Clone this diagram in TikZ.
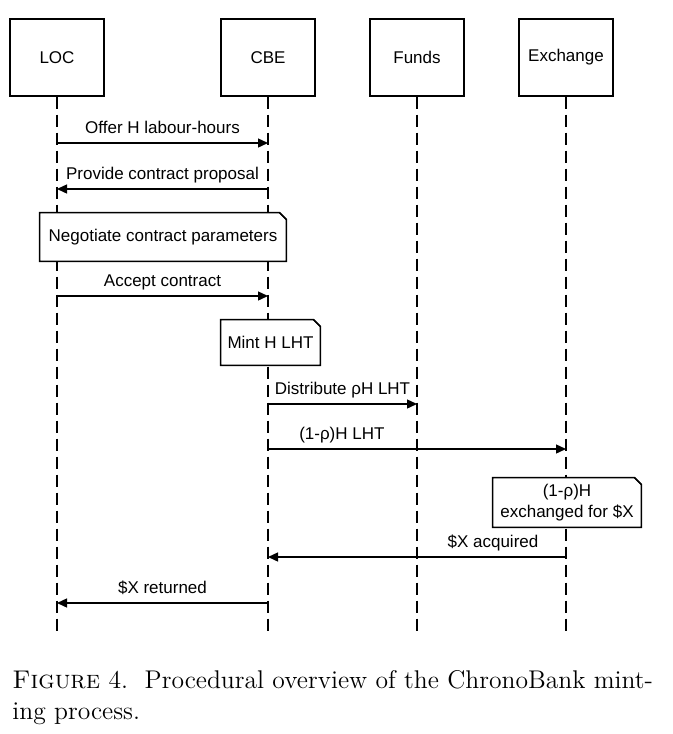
\documentclass[tikz,border=0pt]{standalone}
\usepackage{fontspec}
\usepackage{tikz}
\usetikzlibrary{arrows.meta}
\newfontfamily\diagfont{Liberation Sans}

\begin{document}
\begin{tikzpicture}[x=0.5pt, y=-0.5pt,
    actor/.style={draw, line width=0.7pt, minimum width=47pt, minimum height=38.5pt,
      font=\diagfont\fontsize{8.5}{10}\selectfont},
    lifeline/.style={line width=0.6pt, dash pattern=on 6pt off 3pt},
    msg/.style={line width=0.7pt, -{Triangle[length=5pt,width=4.5pt]}},
    lbl/.style={above, inner sep=2.5pt, yshift=2pt, text depth=0pt,
      font=\diagfont\fontsize{8.5}{10}\selectfont},
    notebox/.style={fill=white, inner sep=1pt, align=center,
      font=\diagfont\fontsize{8.5}{10.5}\selectfont},
    notefold/.style={line width=0.7pt}]
  \useasboundingbox (0,0) rectangle (673,734);

  \node[actor] (loc) at (57,57.5) {LOC};
  \node[actor] (cbe) at (268,57.5) {CBE};
  \node[actor] (funds) at (417,57.5) {Funds};
  \node[actor] (exch) at (566,57.5) {Exchange};

  \coordinate (locend) at (57,635);
  \coordinate (cbeend) at (268,635);
  \coordinate (fundsend) at (417,635);
  \coordinate (exchend) at (566,635);
  \draw[lifeline] (loc.south) -- (locend);
  \draw[lifeline] (cbe.south) -- (cbeend);
  \draw[lifeline] (funds.south) -- (fundsend);
  \draw[lifeline] (exch.south) -- (exchend);

  \coordinate (loc1) at (57,143);  \coordinate (cbe1) at (268,143);
  \coordinate (loc2) at (57,189);  \coordinate (cbe2) at (268,189);
  \coordinate (loc3) at (57,296);  \coordinate (cbe3) at (268,296);
  \coordinate (cbe4) at (268,404); \coordinate (funds4) at (417,404);
  \coordinate (cbe5) at (268,449); \coordinate (exch5) at (566,449);
  \coordinate (cbe6) at (268,557); \coordinate (exch6) at (566,557);
  \coordinate (loc7) at (57,603);  \coordinate (cbe7) at (268,603);

  \draw[msg] (loc1) -- node[lbl] {Offer H labour-hours} (cbe1);
  \draw[msg] (cbe2) -- node[lbl] {Provide contract proposal} (loc2);
  \draw[msg] (loc3) -- node[lbl] {Accept contract} (cbe3);
  \draw[msg] (cbe4) -- node[lbl] {Distribute ρH LHT} (funds4);
  \draw[msg] (cbe5) -- node[lbl, pos=0.248] {(1-ρ)H LHT} (exch5);
  \draw[msg] (exch6) -- node[lbl, pos=0.245] {\$X acquired} (cbe6);
  \draw[msg] (cbe7) -- node[lbl] {\$X returned} (loc7);

  \node[notebox, minimum width=123pt, minimum height=24pt] (nego) at (163,237) {Negotiate contract parameters};
  \node[notebox, minimum width=49.5pt, minimum height=22.5pt] (mint) at (270.5,342.5) {Mint H LHT};
  \node[notebox, minimum width=74pt, minimum height=24.5pt] (swap) at (567,502.5) {(1-ρ)H\\exchanged for \$X};

  \foreach \n in {nego,mint,swap} {
    \draw[notefold] (\n.south west) -- (\n.north west) -- ([xshift=-3.5pt]\n.north east)
      -- ([yshift=-3.5pt]\n.north east) -- (\n.south east) -- cycle;
    \draw[notefold] ([xshift=-3.5pt]\n.north east) -- ([xshift=-0.8pt,yshift=-2.7pt]\n.north east)
      -- ([yshift=-3.5pt]\n.north east);
  }

  \node[anchor=north west, align=left, inner sep=0pt, font=\fontsize{12.8}{15.5}\selectfont] (caption) at (12,670)
    {\textsc{Figure} 4.\ \ Procedural overview of the ChronoBank mint-\\ing process.};
\end{tikzpicture}
\end{document}
